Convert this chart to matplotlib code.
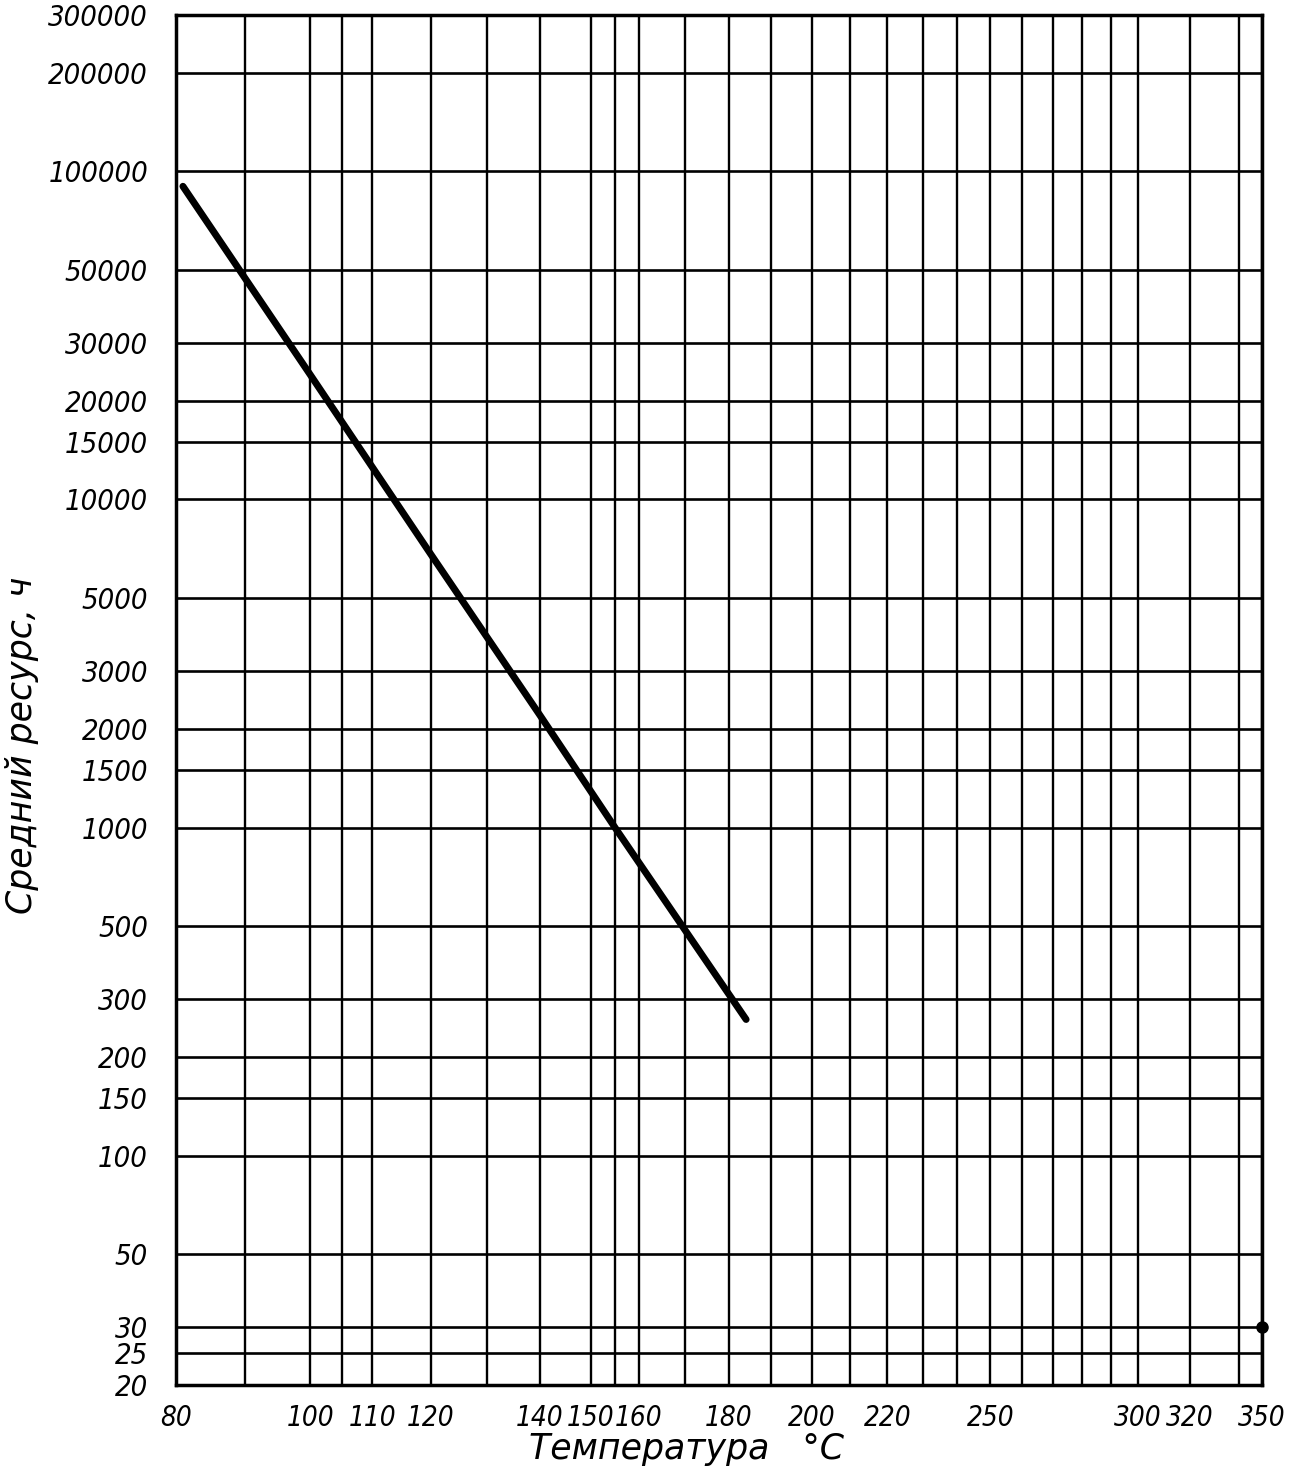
import numpy as np
import matplotlib
matplotlib.use("Agg")
import matplotlib.pyplot as plt

# x axis: temperature, °C (reciprocal absolute temperature scale)
x_ticks = [80, 100, 110, 120, 140, 150, 160, 180, 200, 220, 250, 300, 320, 350]
x_grid = [80, 90, 100, 105, 110, 120, 130, 140, 150, 155, 160, 170, 180, 190,
          200, 210, 220, 230, 240, 250, 260, 270, 280, 290, 300, 320, 340, 350]

# y axis: mean life, hours (log scale)
y_ticks = [20, 25, 30, 50, 100, 150, 200, 300, 500, 1000, 1500, 2000, 3000,
           5000, 10000, 15000, 20000, 30000, 50000, 100000, 200000, 300000]

# life curve
temp = [81, 100, 120, 140, 155, 184]
life = [90000, 24000, 6800, 2200, 1000, 260]

# stray dot at right edge
dot_t = [350]
dot_y = [30]

K = 273.15


def fwd(t):
    with np.errstate(divide="ignore", invalid="ignore"):
        return -1.0 / (np.asarray(t, dtype=float) + K)


def inv(v):
    with np.errstate(divide="ignore", invalid="ignore"):
        return -1.0 / np.asarray(v, dtype=float) - K


fig = plt.figure(figsize=(12.93, 14.74), dpi=100)
ax = fig.add_axes([0.136, 0.0604, 0.840, 0.9296])

ax.set_xscale("function", functions=(fwd, inv))
ax.set_yscale("log")
ax.set_xlim(80, 350)
ax.set_ylim(20, 300000)

for t in x_grid:
    ax.axvline(t, color="black", linewidth=1.7, zorder=1)
for v in y_ticks:
    ax.axhline(v, color="black", linewidth=1.9, zorder=1)

ax.plot(temp, life, color="black", linewidth=5, solid_capstyle="round", zorder=3)
ax.plot(dot_t, dot_y, "o", color="black", markersize=8, clip_on=False, zorder=4)

tick_font = dict(family="DejaVu Sans", style="italic", stretch="condensed")
label_font = dict(family="DejaVu Sans", style="italic")

ax.set_xticks(x_ticks)
ax.set_xticklabels([str(t) for t in x_ticks], fontsize=20, **tick_font)
ax.xaxis.set_minor_locator(matplotlib.ticker.NullLocator())
ax.set_yticks(y_ticks)
ax.set_yticklabels([str(v) for v in y_ticks], fontsize=21, **tick_font)
ax.yaxis.set_minor_locator(matplotlib.ticker.NullLocator())
ax.tick_params(axis="both", length=0)
ax.tick_params(axis="x", pad=14)
ax.tick_params(axis="y", pad=20)

for s in ax.spines.values():
    s.set_linewidth(2.5)

ax.set_xlabel("Температура   °C", fontsize=25, **label_font)
ax.set_ylabel("Средний ресурс, ч", fontsize=25, **label_font)
ax.xaxis.set_label_coords(0.47, -0.034)
ax.yaxis.set_label_coords(-0.126, 0.467)

plt.savefig("out.png", dpi=100)
